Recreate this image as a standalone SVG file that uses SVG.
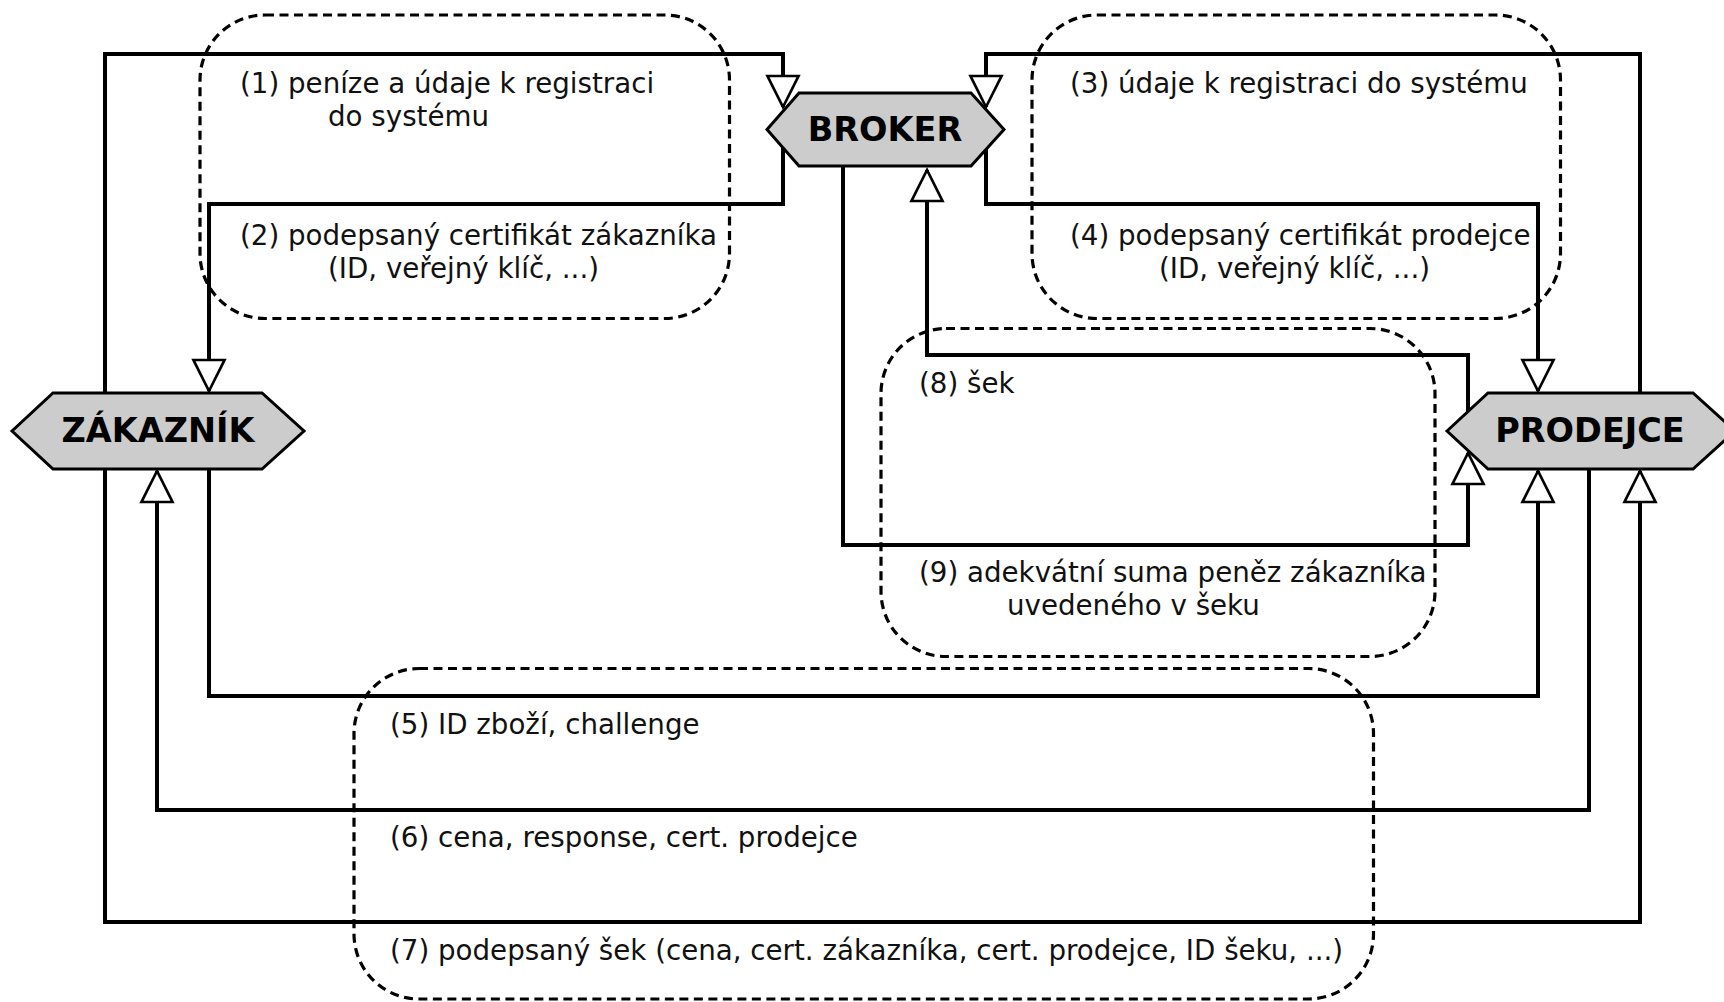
<svg xmlns="http://www.w3.org/2000/svg" width="1724" height="1002" viewBox="0 0 1724 1002">
<style>
.bg{fill:#ffffff}
.grp{fill:none;stroke:#000;stroke-width:3.2;stroke-dasharray:9 5.5}
.conn{fill:none;stroke:#000;stroke-width:4;stroke-linejoin:miter}
.hex{fill:#cccccc;stroke:#000;stroke-width:3}
.ntext{font-family:"DejaVu Sans","Liberation Sans",sans-serif;font-weight:bold;font-size:33.5px;fill:#000;text-anchor:middle}
.lbl{font-family:"DejaVu Sans","Liberation Sans",sans-serif;font-size:27.7px;fill:#111}
</style>
<defs>
<marker id="arr" markerUnits="userSpaceOnUse" markerWidth="40" markerHeight="40" viewBox="-36 -20 40 40" refX="0" refY="0" orient="auto" overflow="visible">
<path d="M0,0 L-31,-15.5 L-31,15.5 Z" fill="#fff" stroke="#000" stroke-width="2.7" stroke-linejoin="miter"/>
</marker>
</defs>
<rect class="bg" x="0" y="0" width="1724" height="1002"/>

<g id="groups">
<rect class="grp" x="200" y="15" width="529.5" height="303.5" rx="65" ry="65"/>
<rect class="grp" x="1032" y="15" width="528.5" height="303.5" rx="65" ry="65"/>
<rect class="grp" x="881" y="328.5" width="554" height="328" rx="65" ry="65"/>
<rect class="grp" x="354" y="668.5" width="1019.5" height="330.5" rx="65" ry="65"/>
</g>

<g id="connectors">
<path id="c1" class="conn" d="M105,393 V54 H783 V107" marker-end="url(#arr)"/>
<path id="c2" class="conn" d="M783,148 V204 H209 V391" marker-end="url(#arr)"/>
<path id="c3" class="conn" d="M1640,393 V54 H986 V107" marker-end="url(#arr)"/>
<path id="c4" class="conn" d="M986,149 V204 H1538 V391" marker-end="url(#arr)"/>
<path id="c5" class="conn" d="M209,469 V696 H1538 V471" marker-end="url(#arr)"/>
<path id="c6" class="conn" d="M1589,469 V810 H157 V471" marker-end="url(#arr)"/>
<path id="c7" class="conn" d="M105,469 V922 H1640 V471" marker-end="url(#arr)"/>
<path id="c8" class="conn" d="M1468,411.5 V355 H927 V170" marker-end="url(#arr)"/>
<path id="c9" class="conn" d="M843,166 V545 H1468 V453" marker-end="url(#arr)"/>
</g>

<g id="broker">
<polygon class="hex" points="767,129.5 799,93 971,93 1004,129.5 971,166 799,166"/>
<text class="ntext" x="885" y="141">BROKER</text>
</g>
<g id="zakaznik">
<polygon class="hex" points="12,431 53,393 262,393 304,431 262,469 53,469"/>
<text class="ntext" x="158" y="442">ZÁKAZNÍK</text>
</g>
<g id="prodejce">
<polygon class="hex" points="1447,431 1488,393 1693,393 1735,431 1693,469 1488,469"/>
<text class="ntext" x="1590" y="442">PRODEJCE</text>
</g>

<g id="labels">
<text class="lbl" x="240" y="93">(1) peníze a údaje k registraci</text>
<text class="lbl" x="328" y="126">do systému</text>
<text class="lbl" x="240" y="245">(2) podepsaný certifikát zákazníka</text>
<text class="lbl" x="328" y="278">(ID, veřejný klíč, ...)</text>
<text class="lbl" x="1070" y="93">(3) údaje k registraci do systému</text>
<text class="lbl" x="1070" y="245">(4) podepsaný certifikát prodejce</text>
<text class="lbl" x="1159" y="278">(ID, veřejný klíč, ...)</text>
<text class="lbl" x="919" y="393">(8) šek</text>
<text class="lbl" x="919" y="582">(9) adekvátní suma peněz zákazníka</text>
<text class="lbl" x="1007" y="615">uvedeného v šeku</text>
<text class="lbl" x="390" y="734">(5) ID zboží, challenge</text>
<text class="lbl" x="390" y="847">(6) cena, response, cert. prodejce</text>
<text class="lbl" x="390" y="960">(7) podepsaný šek (cena, cert. zákazníka, cert. prodejce, ID šeku, ...)</text>
</g>
</svg>
